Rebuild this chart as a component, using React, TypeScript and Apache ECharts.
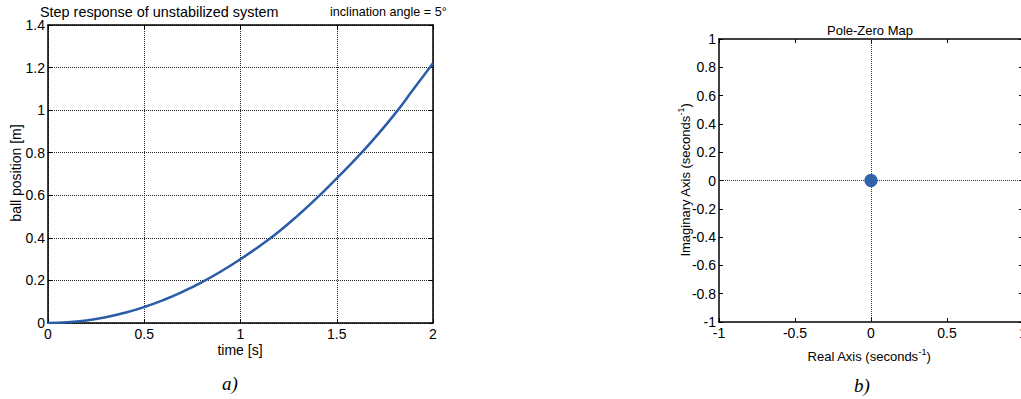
import React, { useEffect, useRef } from "react";
import * as echarts from "echarts";

// Step response of the unstabilized ball-on-beam system
const timeS = [0, 0.1, 0.2, 0.3, 0.4, 0.5, 0.6, 0.7, 0.8, 0.9, 1.0, 1.1, 1.2, 1.3, 1.4, 1.5, 1.6, 1.7, 1.8, 1.9, 2.0];
const ballPosition = [0, 0.003, 0.012, 0.027, 0.048, 0.075, 0.108, 0.147, 0.192, 0.243, 0.3, 0.362, 0.43, 0.507, 0.59, 0.68, 0.772, 0.872, 0.98, 1.1, 1.22];

// Poles of the open-loop system (double integrator at the origin)
const poleReal = [0, 0];
const poleImag = [0, 0];

const xTicksStep = { min: 0, max: 2, interval: 0.5 };
const yTicksStep = { min: 0, max: 1.4, interval: 0.2 };
const xTicksPz = { min: -1, max: 1, interval: 0.5 };
const yTicksPz = { min: -1, max: 1, interval: 0.2 };

const FONT = "'Liberation Sans', Arial, Helvetica, sans-serif";
const BLUE = "#2a5ca8";

function fmt(v: number) {
  const r = Math.round(v * 10) / 10;
  return String(r);
}

function axisPair(
  kind: "x" | "y",
  gridIndex: number,
  range: { min: number; max: number; interval: number },
  grid: boolean
) {
  const main = {
    type: "value",
    gridIndex,
    min: range.min,
    max: range.max,
    interval: range.interval,
    position: kind === "x" ? "bottom" : "left",
    axisLine: { show: true, onZero: false, lineStyle: { color: "#000", width: 1.5 } },
    axisTick: { show: true, inside: true, length: 4, lineStyle: { color: "#000", width: 1 } },
    axisLabel: {
      show: true,
      color: "#000",
      fontFamily: FONT,
      fontSize: 14,
      margin: kind === "x" ? 4 : 3,
      formatter: (v: number) => fmt(v),
    },
    splitLine: {
      show: grid,
      lineStyle: { color: "#222", type: [1, 1], width: 1 },
    },
  };
  const mirror = {
    type: "value",
    gridIndex,
    min: range.min,
    max: range.max,
    interval: range.interval,
    position: kind === "x" ? "top" : "right",
    axisLine: { show: true, onZero: false, lineStyle: { color: "#000", width: 1.5 } },
    axisTick: { show: true, inside: true, length: 4, lineStyle: { color: "#000", width: 1 } },
    axisLabel: { show: false },
    splitLine: { show: false },
  };
  return [main, mirror];
}

export default function App() {
  const ref = useRef<HTMLDivElement>(null);

  useEffect(() => {
    if (!ref.current) return;
    const chart = echarts.init(ref.current, null, { renderer: "svg" });

    const [x0, x0m] = axisPair("x", 0, xTicksStep, true);
    const [y0, y0m] = axisPair("y", 0, yTicksStep, true);
    const [x1, x1m] = axisPair("x", 1, xTicksPz, false);
    const [y1, y1m] = axisPair("y", 1, yTicksPz, false);

    const textStyle = { fontFamily: FONT, fontSize: 14, fill: "#000" };
    const sup = { fontFamily: FONT, fontSize: 9, fill: "#000", verticalAlign: "top", padding: [0, 0, 8, 0] };

    chart.setOption({
      animation: false,
      backgroundColor: "#fff",
      grid: [
        { left: 48, top: 25, width: 385, height: 298, outerBoundsMode: "none" },
        { left: 719, top: 39, width: 304, height: 283, outerBoundsMode: "none" },
      ],
      xAxis: [x0, x0m, x1, x1m],
      yAxis: [y0, y0m, y1, y1m],
      series: [
        {
          type: "line",
          xAxisIndex: 0,
          yAxisIndex: 0,
          data: timeS.map((t, i) => [t, ballPosition[i]]),
          showSymbol: false,
          smooth: true,
          lineStyle: { color: BLUE, width: 2.5 },
          z: 5,
        },
        {
          type: "scatter",
          xAxisIndex: 2,
          yAxisIndex: 2,
          data: poleReal.map((r, i) => [r, poleImag[i]]),
          symbol: "circle",
          symbolSize: 13,
          itemStyle: { color: BLUE },
          z: 5,
          markLine: {
            silent: true,
            symbol: ["none", "none"],
            label: { show: false },
            lineStyle: { color: "#333", type: [1, 1], width: 1 },
            data: [{ xAxis: 0 }, { yAxis: 0 }],
          },
        },
      ],
      graphic: [
        {
          type: "text",
          left: 40,
          top: 5,
          style: { ...textStyle, fontSize: 14.4, text: "Step response of unstabilized system" },
        },
        {
          type: "text",
          left: 330,
          top: 5,
          style: { ...textStyle, fontSize: 12.6, text: "inclination angle = 5°" },
        },
        {
          type: "text",
          x: 240,
          y: 350,
          style: { ...textStyle, text: "time [s]", align: "center", verticalAlign: "middle" },
        },
        {
          type: "text",
          x: 16,
          y: 173,
          rotation: Math.PI / 2,
          style: { ...textStyle, text: "ball position [m]", align: "center", verticalAlign: "middle" },
        },
        {
          type: "text",
          x: 870,
          y: 30,
          style: { ...textStyle, fontSize: 13, text: "Pole-Zero Map", align: "center", verticalAlign: "middle" },
        },
        {
          type: "text",
          x: 869,
          y: 356,
          style: {
            ...textStyle,
            fontSize: 13,
            text: "Real Axis (seconds{s|-1})",
            align: "center",
            verticalAlign: "middle",
            rich: { s: sup },
          },
        },
        {
          type: "text",
          x: 685,
          y: 180,
          rotation: Math.PI / 2,
          style: {
            ...textStyle,
            fontSize: 13,
            text: "Imaginary Axis (seconds{s|-1})",
            align: "center",
            verticalAlign: "middle",
            rich: { s: sup },
          },
        },
        {
          type: "text",
          x: 230,
          y: 383,
          style: {
            text: "a)",
            fontFamily: "'Liberation Serif', 'DejaVu Serif', serif",
            fontStyle: "italic",
            fontSize: 19,
            fill: "#000",
            align: "center",
            verticalAlign: "middle",
          },
        },
        {
          type: "text",
          x: 862,
          y: 385,
          style: {
            text: "b)",
            fontFamily: "'Liberation Serif', 'DejaVu Serif', serif",
            fontStyle: "italic",
            fontSize: 19,
            fill: "#000",
            align: "center",
            verticalAlign: "middle",
          },
        },
      ],
    });

    return () => chart.dispose();
  }, []);

  return (
    <div
      ref={ref}
      style={{ position: "fixed", left: 0, top: 0, width: 1021, height: 399, background: "#fff" }}
    />
  );
}
